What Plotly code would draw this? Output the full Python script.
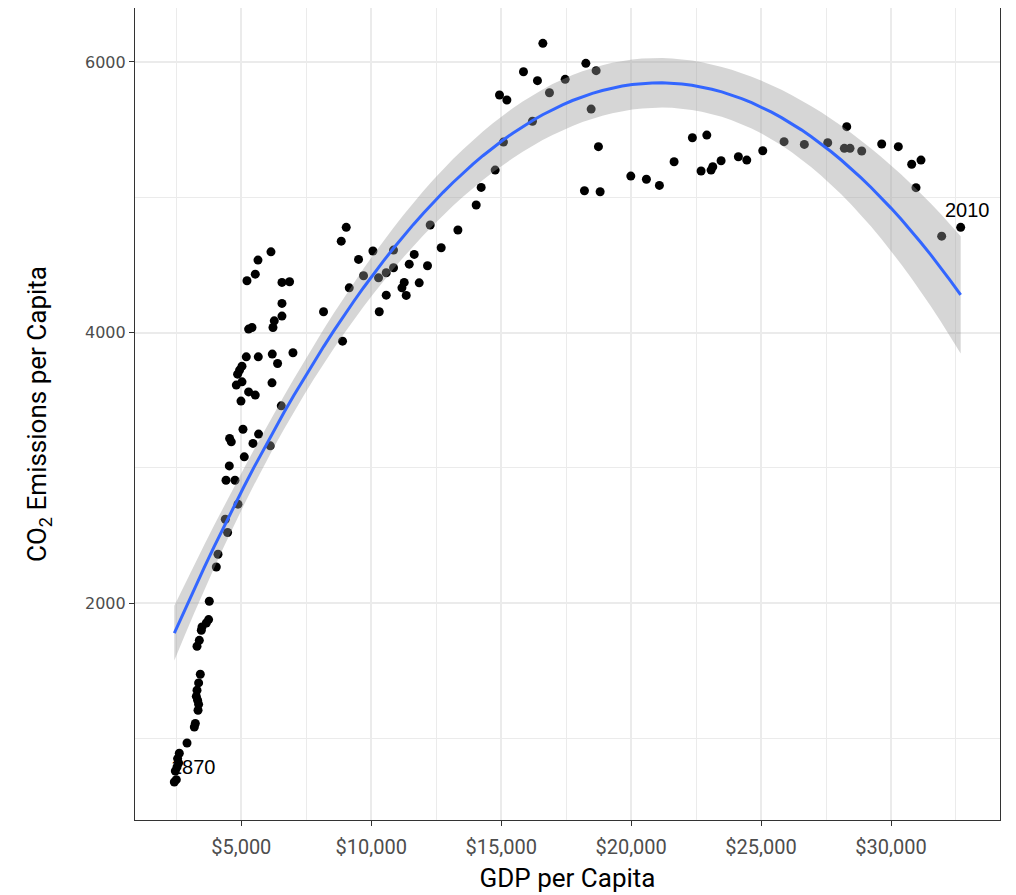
import numpy as np
import plotly.graph_objects as go

# GDP per capita (US$) and CO2 emissions per capita
gdp = [2423, 2500, 2462, 2527, 2588, 2550, 2615, 2912, 3192, 3231, 3335, 3358, 3319, 3269, 3296,
       3358, 3423, 3296, 3385, 3462, 3488, 3654, 3742, 3769, 4038, 4104, 4473, 4385, 4873, 4412,
       4758, 4538, 5115, 6115, 5450, 4615, 4550, 5665, 5065, 6538, 4988, 5538, 5281, 4808, 6181,
       5027, 4858, 4935, 5027, 6396, 5192, 5654, 6192, 6988, 5281, 5412, 6219, 6269, 6565, 6565,
       6565, 6858, 5219, 5538, 5642, 6142, 9038, 8846, 10065, 9512, 10858, 11654, 11462, 12165, 12692,
       13335, 12269, 9704, 10281, 10577, 10858, 11269, 11181, 11346, 11846, 9154, 10577, 8165, 10308, 8896,
       14038, 14231, 14769, 15088, 14935, 15219, 15858, 16396, 16604, 16204, 16858, 17462, 18258, 18654, 18462,
       18742, 18204, 18808, 19988, 20588, 21088, 21654, 22358, 22912, 22692, 23077, 23142, 23462, 24127, 24450,
       25065, 25885, 26665, 27565, 28296, 28204, 28423, 28873, 29642, 30281, 30796, 31154, 30962, 31950, 32681]
co2 = [679, 696, 760, 790, 819, 852, 891, 967, 1085, 1111, 1209, 1253, 1283, 1312, 1357,
       1411, 1475, 1682, 1726, 1800, 1825, 1854, 1879, 2015, 2268, 2362, 2523, 2621, 2732, 2909,
       2909, 3015, 3082, 3163, 3181, 3193, 3218, 3250, 3286, 3459, 3494, 3538, 3562, 3612, 3629,
       3636, 3693, 3723, 3752, 3772, 3821, 3821, 3841, 3851, 4026, 4038, 4038, 4087, 4122, 4216,
       4371, 4376, 4383, 4432, 4536, 4597, 4778, 4676, 4603, 4541, 4610, 4578, 4506, 4494, 4627,
       4758, 4795, 4420, 4405, 4442, 4479, 4371, 4331, 4275, 4368, 4331, 4277, 4154, 4154, 3937,
       4943, 5073, 5201, 5408, 5756, 5719, 5928, 5862, 6138, 5562, 5773, 5872, 5990, 5936, 5652,
       5374, 5048, 5041, 5157, 5133, 5088, 5263, 5440, 5460, 5194, 5201, 5226, 5270, 5300, 5275,
       5344, 5411, 5391, 5403, 5522, 5362, 5362, 5342, 5394, 5374, 5244, 5275, 5071, 4713, 4778]

label_years = ["1870", "2010"]
label_index = [0, len(gdp) - 1]

x_ticks = [5000, 10000, 15000, 20000, 25000, 30000]
x_tick_labels = ["$5,000", "$10,000", "$15,000", "$20,000", "$25,000", "$30,000"]
y_ticks = [2000, 4000, 6000]

# quadratic least-squares fit with 95% confidence band
x = np.array(gdp, dtype=float)
y = np.array(co2, dtype=float)
X = np.column_stack([np.ones_like(x), x, x ** 2])
beta, *_ = np.linalg.lstsq(X, y, rcond=None)
resid = y - X @ beta
dof = len(x) - 3
s2 = resid @ resid / dof
XtX_inv = np.linalg.inv(X.T @ X)
xs = np.linspace(x.min(), x.max(), 80)
Xs = np.column_stack([np.ones_like(xs), xs, xs ** 2])
fit = Xs @ beta
se = np.sqrt(np.einsum("ij,jk,ik->i", Xs, XtX_inv, Xs) * s2)
tq = 1.978
upper = fit + tq * se
lower = fit - tq * se

fig = go.Figure()
fig.add_trace(go.Scatter(x=gdp, y=co2, mode="markers",
                         marker=dict(color="black", size=9, line=dict(width=0)),
                         showlegend=False, hoverinfo="skip"))
fig.add_trace(go.Scatter(x=np.concatenate([xs, xs[::-1]]), y=np.concatenate([upper, lower[::-1]]),
                         fill="toself", fillcolor="rgba(153,153,153,0.4)", line=dict(width=0),
                         mode="lines", showlegend=False, hoverinfo="skip"))
fig.add_trace(go.Scatter(x=xs, y=fit, mode="lines", line=dict(color="#3366FF", width=3),
                         showlegend=False, hoverinfo="skip"))

shifts = [(19, 15), (7, 17)]
for (i, lab), (dx, dy) in zip(zip(label_index, label_years), shifts):
    fig.add_annotation(x=gdp[i], y=co2[i], text=lab, showarrow=False, xshift=dx, yshift=dy,
                       font=dict(family="Liberation Sans, Arial, sans-serif", size=20, color="black"))

cond = "Roboto, Liberation Sans, sans-serif"
fig.update_layout(
    width=1016, height=895,
    margin=dict(l=127, r=24, t=0, b=83),
    paper_bgcolor="white", plot_bgcolor="white",
    xaxis=dict(range=[910, 34194], tickvals=x_ticks, ticktext=x_tick_labels,
               showgrid=True, gridcolor="#EBEBEB", gridwidth=2,
               minor=dict(dtick=2500, tick0=0, showgrid=True, gridcolor="#EBEBEB", gridwidth=1),
               showline=True, linecolor="#333333", linewidth=1.2, mirror=True,
               ticks="outside", ticklen=5, tickcolor="#333333", zeroline=False,
               ticklabelstandoff=4,
               tickfont=dict(family=cond, size=20, color="#4D4D4D"),
               title=dict(text="GDP per Capita", font=dict(family=cond, size=26, color="black"), standoff=10)),
    yaxis=dict(range=[398, 6399], tickvals=y_ticks,
               showgrid=True, gridcolor="#EBEBEB", gridwidth=2,
               minor=dict(dtick=1000, tick0=0, showgrid=True, gridcolor="#EBEBEB", gridwidth=1),
               showline=True, linecolor="#333333", linewidth=1.2, mirror=True,
               ticks="outside", ticklen=5, tickcolor="#333333", zeroline=False,
               tickfont=dict(family="DejaVu Sans, Noto Sans, sans-serif", size=16, color="#4D4D4D"),
               title=dict(text="CO<sub>2</sub> Emissions per Capita",
                          font=dict(family=cond, size=26, color="black"), standoff=30)),
)

fig.write_html("out.html")
